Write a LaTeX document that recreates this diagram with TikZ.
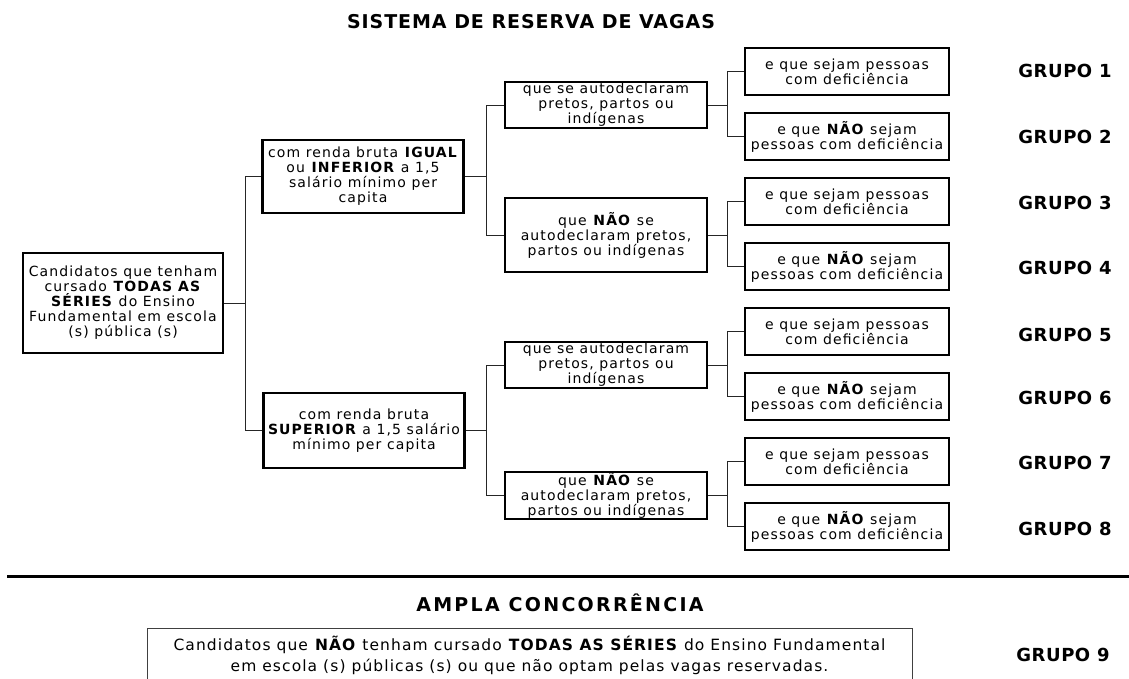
\documentclass[tikz,border=0pt]{standalone}
\usepackage{fontspec}
\setmainfont{DejaVu Sans}
\newfontfamily\boxff{DejaVu Sans}[LetterSpace=8]
\newfontfamily\grpff{DejaVu Sans}[LetterSpace=3]
\newfontfamily\titff{DejaVu Sans}[LetterSpace=5]
\newfontfamily\ampff{DejaVu Sans}[LetterSpace=12]
\newfontfamily\botff{DejaVu Sans}[LetterSpace=7]
\begin{document}
\begin{tikzpicture}[x=1pt,y=-1pt,
  box/.style={draw, line width=2.6pt, align=center, inner sep=0pt,
    font=\boxff\fontsize{14}{15}\selectfont},
  lvlone/.style={box, minimum width=200pt, minimum height=100pt},
  lvltwo/.style={box, minimum width=201pt},
  lvlthree/.style={box, minimum width=202pt},
  lvlfour/.style={box, line width=2.2pt, minimum width=204pt, minimum height=47pt},
  conn/.style={line width=0.9pt, draw=black!85},
  grp/.style={font=\grpff\bfseries\fontsize{18}{20}\selectfont},
  ttl/.style={font=\titff\bfseries\fontsize{19}{21}\selectfont},
  amp/.style={font=\ampff\bfseries\fontsize{19}{21}\selectfont},
  botbox/.style={draw=black!75, line width=1pt, align=center, inner sep=0pt,
    font=\botff\fontsize{15.5}{21}\selectfont}
]
\useasboundingbox (0,0) rectangle (1129,679);
\clip (0,0) rectangle (1129,679);

\node[ttl] (title) at (531,22) {SISTEMA DE RESERVA DE VAGAS};

% level 1
\node[lvlone] (L) at (123,303) {Candidatos que tenham\\cursado \textbf{TODAS AS}\\\textbf{SÉRIES} do Ensino\\Fundamental em escola\\(s) pública (s)};

% level 2
\node[lvltwo, minimum height=73pt] (A) at (363,176.5) {com renda bruta \textbf{IGUAL}\\ou \textbf{INFERIOR} a 1,5\\salário mínimo per\\capita};
\node[lvltwo, minimum height=75pt] (B) at (364,430.5) {com renda bruta\\\textbf{SUPERIOR} a 1,5 salário\\mínimo per capita};

% level 3
\node[lvlthree, minimum height=46pt] (A1) at (606,105) {que se autodeclaram\\pretos, partos ou\\indígenas};
\node[lvlthree, minimum height=74pt] (A2) at (606,235) {que \textbf{NÃO} se\\autodeclaram pretos,\\partos ou indígenas};
\node[lvlthree, minimum height=46pt] (B1) at (606,365) {que se autodeclaram\\pretos, partos ou\\indígenas};
\node[lvlthree, minimum height=47pt] (B2) at (606,495.5) {que \textbf{NÃO} se\\autodeclaram pretos,\\partos ou indígenas};

% level 4
\foreach \i/\nm in {0/A1a,2/A2a,4/B1a,6/B2a}{
  \node[lvlfour] (\nm) at (847,{71.5+65*\i}) {e que sejam pessoas\\com deficiência};
}
\foreach \i/\nm in {1/A1b,3/A2b,5/B1b,7/B2b}{
  \node[lvlfour] (\nm) at (847,{71.5+65*\i}) {e que \textbf{NÃO} sejam\\pessoas com deficiência};
}

% group labels
\node[grp] (g1) at (1065,71) {GRUPO 1};
\node[grp] (g2) at (1065,137) {GRUPO 2};
\node[grp] (g3) at (1065,203) {GRUPO 3};
\node[grp] (g4) at (1065,268) {GRUPO 4};
\node[grp] (g5) at (1065,335) {GRUPO 5};
\node[grp] (g6) at (1065,398) {GRUPO 6};
\node[grp] (g7) at (1065,463) {GRUPO 7};
\node[grp] (g8) at (1065,529) {GRUPO 8};

% connectors
\draw[conn] (L.east) -- ++(21,0) coordinate (jL);
\draw[conn] (A.west) -| (jL);
\draw[conn] (B.west) -| (jL);
\draw[conn] (A.east) -- ++(22,0) coordinate (jA);
\draw[conn] (A1.west) -| (jA);
\draw[conn] (A2.west) -| (jA);
\draw[conn] (B.east) -- ++(21,0) coordinate (jB);
\draw[conn] (B1.west) -| (jB);
\draw[conn] (B2.west) -| (jB);
\foreach \p in {A1,A2,B1,B2}{
  \draw[conn] (\p.east) -- ++(19,0) coordinate (j\p);
  \draw[conn] (\p a.west) -| (j\p);
  \draw[conn] (\p b.west) -| (j\p);
}

% separator
\draw[line width=3pt] (7,576) -- (1129,576);

\node[amp] (ampla) at (560,603) {AMPLA CONCORRÊNCIA};
\node[botbox, anchor=north, minimum width=765pt, minimum height=54pt] (C) at (529.5,628)
  {Candidatos que \textbf{NÃO} tenham cursado \textbf{TODAS AS SÉRIES} do Ensino Fundamental\\em escola (s) públicas (s) ou que não optam pelas vagas reservadas.};
\node[grp] (g9) at (1063,655) {GRUPO 9};
\end{tikzpicture}
\end{document}
